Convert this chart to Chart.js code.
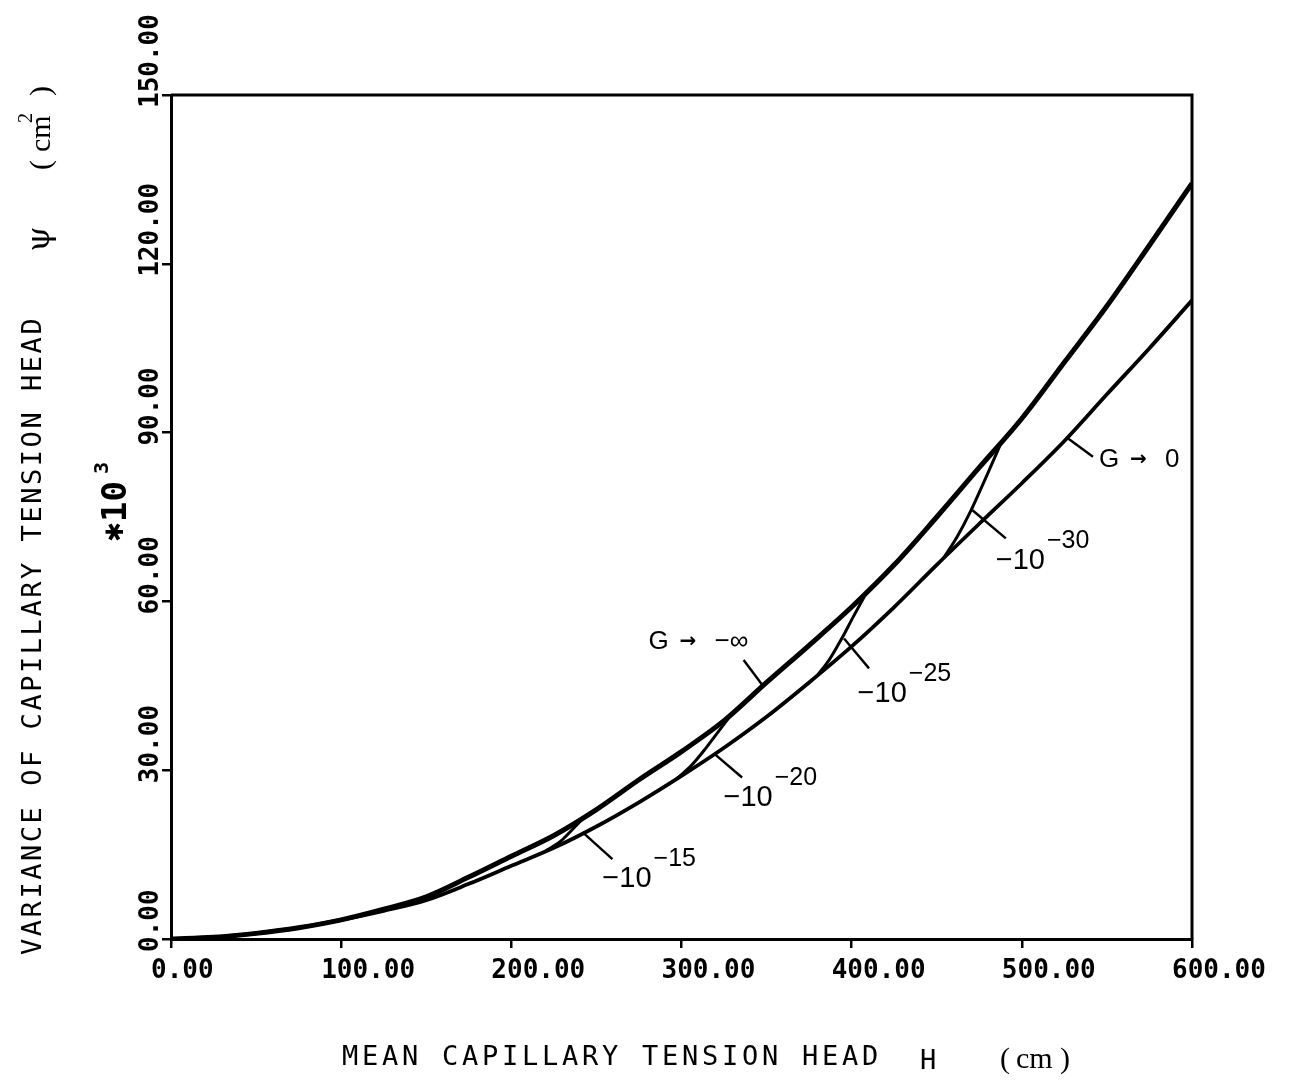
<!DOCTYPE html>
<html>
<head>
<meta charset="utf-8">
<script src="https://cdn.jsdelivr.net/npm/chart.js@4.4.1/dist/chart.umd.min.js"></script>
<style>
html, body { margin: 0; padding: 0; background: #fff; }
#wrap { width: 1289px; height: 1091px; }
</style>
</head>
<body>
<div id="wrap"><canvas id="grafico" width="1289" height="1091"></canvas></div>
<script>
// --- DADOS ---
// H = carga de tensao capilar media (cm), psi = variancia (*10^3 cm^2)
const hCurva = [0, 25, 50, 75, 100, 125, 150, 175, 200, 225, 250, 275, 300, 325, 350, 375, 400, 425, 450, 475, 500, 525, 550, 575, 600];
const psiMenosInf = [0, 0.3, 1.0, 2.0, 3.4, 5.3, 7.5, 11.0, 14.7, 18.4, 23.0, 28.3, 33.3, 38.8, 45.6, 52.2, 59.0, 66.5, 75.0, 83.8, 92.5, 102.5, 112.5, 123.3, 134.3];
const psiZero = [0, 0.3, 1.0, 2.0, 3.4, 5.0, 6.9, 9.8, 13.0, 16.2, 20.0, 24.3, 29.0, 34.0, 39.5, 45.6, 52.0, 59.0, 66.5, 73.8, 81.0, 88.5, 96.8, 105.0, 113.5];

// transicoes entre as duas curvas
const h10 = [138, 147, 156];
const psi10 = [5.9, 7.0, 8.4];
const h15 = [220, 229, 236, 243];
const psi15 = [15.6, 17.4, 19.5, 21.7];
const h20 = [297, 306, 314, 322, 330];
const psi20 = [28.4, 30.9, 33.8, 37.0, 40.2];
const h25 = [380, 387, 394, 401, 409];
const psi25 = [46.9, 49.7, 53.3, 57.3, 61.7];
const h30 = [454, 462, 470, 479, 488];
const psi30 = [67.7, 71.5, 76.1, 82.1, 88.3];

const ticksX = [0, 100, 200, 300, 400, 500, 600];
const ticksY = [0, 30, 60, 90, 120, 150];

// rotulos das curvas G
const expoentes = ['−15', '−20', '−25', '−30'];
const rotuloH = [253.5, 324.7, 403.5, 484.7];
const rotuloPsi = [10.7, 25.1, 43.5, 67.1];
const guiaH = [[241.8, 259.4], [319, 335.6], [395.5, 410.2], [471, 490.6]];
const guiaPsi = [[19.0, 14.2], [33.0, 28.7], [53.4, 48.1], [76.2, 71.2]];

const limiteFim = ['−∞', '0'];
const limiteH = [280.6, 545.3];
const limitePsi = [52.8, 85.1];
const limiteGuiaH = [[336.5, 347.6], [527, 541.8]];
const limiteGuiaPsi = [[49.6, 45.1], [89.0, 85.7]];

function serie(hs, ps, largura) {
    return {
        data: hs.map((h, i) => ({ x: h, y: ps[i] })),
        showLine: true,
        borderColor: '#000',
        borderWidth: largura,
        pointRadius: 0,
        cubicInterpolationMode: 'monotone',
        fill: false
    };
}

function textoGirado(ctx, txt, x, y) {
    ctx.save();
    ctx.translate(x, y);
    ctx.rotate(-Math.PI / 2);
    ctx.fillText(txt, 0, 0);
    ctx.restore();
}

const desenhos = {
    id: 'desenhos',
    afterDraw(chart) {
        const { ctx, chartArea: a, scales: { x, y } } = chart;
        ctx.save();
        ctx.strokeStyle = '#000';
        ctx.fillStyle = '#000';

        // moldura superior e direita
        ctx.lineWidth = 3;
        ctx.beginPath();
        ctx.moveTo(a.left, a.top);
        ctx.lineTo(a.right, a.top);
        ctx.lineTo(a.right, a.bottom);
        ctx.stroke();

        // valores dos eixos
        ctx.font = 'bold 26px "DejaVu Sans Mono"';
        ctx.textBaseline = 'middle';
        ctx.textAlign = 'left';
        ticksX.forEach(v => {
            ctx.fillText(v.toFixed(2), x.getPixelForValue(v) - 20, a.bottom + 32);
        });
        ticksY.forEach(v => {
            textoGirado(ctx, v.toFixed(2), 151, y.getPixelForValue(v) + 13);
        });

        // titulo do eixo x
        ctx.font = '27px "DejaVu Sans Mono"';
        const tx = 'MEAN CAPILLARY TENSION HEAD';
        for (let i = 0; i < tx.length; i++) ctx.fillText(tx[i], 342 + i * 20, 1058);
        ctx.fillText('H', 920, 1062);
        ctx.font = '30px "Liberation Serif"';
        ctx.fillText('(', 1000, 1060);
        ctx.fillText('cm', 1016, 1060);
        ctx.fillText(')', 1060, 1060);

        // titulo do eixo y
        ctx.font = '27px "DejaVu Sans Mono"';
        const ty = 'VARIANCE OF CAPILLARY TENSION HEAD';
        for (let i = 0; i < ty.length; i++) textoGirado(ctx, ty[i], 34, 955 - i * 18.8);
        ctx.font = '32px "DejaVu Serif"';
        ctx.textAlign = 'center';
        textoGirado(ctx, 'ψ', 41, 239);
        ctx.textAlign = 'left';
        ctx.font = '30px "Liberation Serif"';
        textoGirado(ctx, '(', 42, 170);
        textoGirado(ctx, 'cm', 42, 152);
        textoGirado(ctx, ')', 42, 96);
        ctx.font = '20px "Liberation Serif"';
        textoGirado(ctx, '2', 27, 123);

        // fator *10^3
        ctx.font = 'bold 24px "DejaVu Sans"';
        ctx.textAlign = 'center';
        textoGirado(ctx, '✱', 117, 532);
        ctx.textAlign = 'left';
        ctx.font = 'bold 34px "DejaVu Sans Mono"';
        textoGirado(ctx, '10', 117, 522);
        ctx.font = 'bold 20px "DejaVu Sans Mono"';
        textoGirado(ctx, '3', 103, 474);

        // guias e rotulos das curvas
        ctx.lineWidth = 2.4;
        const linha = (hs, ps) => {
            ctx.beginPath();
            ctx.moveTo(x.getPixelForValue(hs[0]), y.getPixelForValue(ps[0]));
            ctx.lineTo(x.getPixelForValue(hs[1]), y.getPixelForValue(ps[1]));
            ctx.stroke();
        };
        expoentes.forEach((e, i) => {
            linha(guiaH[i], guiaPsi[i]);
            const px = x.getPixelForValue(rotuloH[i]);
            const py = y.getPixelForValue(rotuloPsi[i]);
            ctx.font = '29px "Liberation Sans"';
            ctx.fillText('−10', px, py);
            const w = ctx.measureText('−10').width;
            ctx.font = '25px "Liberation Sans"';
            ctx.fillText(e, px + w + 2, py - 20);
        });
        limiteFim.forEach((t, i) => {
            linha(limiteGuiaH[i], limiteGuiaPsi[i]);
            const px = x.getPixelForValue(limiteH[i]);
            const py = y.getPixelForValue(limitePsi[i]);
            ctx.font = '26px "Liberation Sans"';
            ctx.fillText('G', px, py);
            ctx.font = 'bold 20px "DejaVu Sans"';
            ctx.fillText('→', px + 31, py);
            ctx.font = '26px "Liberation Sans"';
            ctx.fillText(t, px + 66, py);
        });
        ctx.restore();
    }
};

new Chart(document.getElementById('grafico'), {
    type: 'scatter',
    data: {
        datasets: [
            serie(hCurva, psiMenosInf, 5),
            serie(hCurva, psiZero, 3.8),
            serie(h10, psi10, 2.8),
            serie(h15, psi15, 3),
            serie(h20, psi20, 3),
            serie(h25, psi25, 3),
            serie(h30, psi30, 3)
        ]
    },
    options: {
        responsive: false,
        animation: false,
        layout: { padding: { top: 95, right: 97, left: 0, bottom: 0 }, autoPadding: false },
        plugins: { legend: { display: false }, tooltip: { enabled: false } },
        scales: {
            x: {
                type: 'linear', min: 0, max: 600,
                ticks: { display: false, stepSize: 100 },
                grid: { drawOnChartArea: false, tickLength: 9, color: '#000', lineWidth: 2.5 },
                border: { color: '#000', width: 3 },
                afterFit: s => { s.height = 152; }
            },
            y: {
                type: 'linear', min: 0, max: 150,
                ticks: { display: false, stepSize: 30 },
                grid: { drawOnChartArea: false, tickLength: 9, color: '#000', lineWidth: 2.5 },
                border: { color: '#000', width: 3 },
                afterFit: s => { s.width = 171; }
            }
        }
    },
    plugins: [desenhos]
});
</script>
</body>
</html>
